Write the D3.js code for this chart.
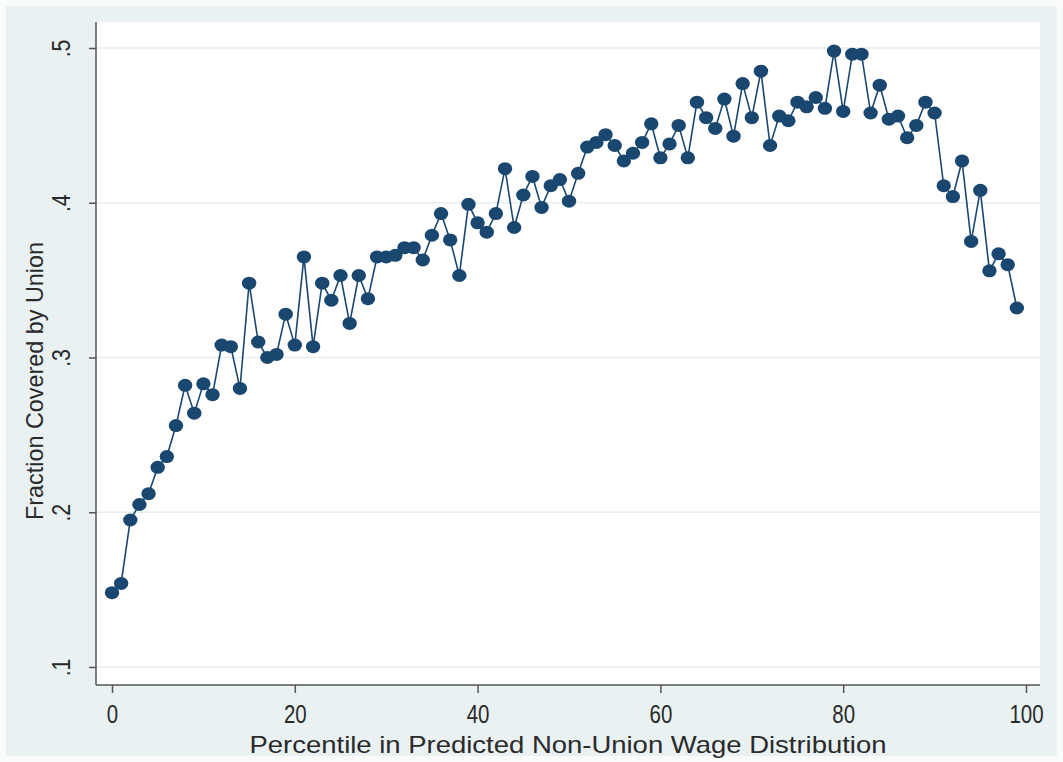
<!DOCTYPE html>
<html lang="en">
<head>
  <meta charset="utf-8">
  <title>Fraction Covered by Union</title>
  <script src="https://d3js.org/d3.v7.min.js"></script>
  <style>
    body { margin: 0; background: #fff; }
    #chart text { font-family: "Liberation Sans Narrow", "Arial Narrow", "Liberation Sans", sans-serif; fill: #2a2a2a; }
  </style>
</head>
<body>
  <div id="chart"></div>
  <script>
    "use strict"
    // percentil e valores
    var percentis = [
      0,1,2,3,4,5,6,7,8,9,10,11,12,13,14,15,16,17,18,19,
      20,21,22,23,24,25,26,27,28,29,30,31,32,33,34,35,36,37,38,39,
      40,41,42,43,44,45,46,47,48,49,50,51,52,53,54,55,56,57,58,59,
      60,61,62,63,64,65,66,67,68,69,70,71,72,73,74,75,76,77,78,79,
      80,81,82,83,84,85,86,87,88,89,90,91,92,93,94,95,96,97,98,99];
    var fracao = [
      .148,.154,.195,.205,.212,.229,.236,.256,.282,.264,
      .283,.276,.308,.307,.280,.348,.310,.300,.302,.328,
      .308,.365,.307,.348,.337,.353,.322,.353,.338,.365,
      .365,.366,.371,.371,.363,.379,.393,.376,.353,.399,
      .387,.381,.393,.422,.384,.405,.417,.397,.411,.415,
      .401,.419,.436,.439,.444,.437,.427,.432,.439,.451,
      .429,.438,.450,.429,.465,.455,.448,.467,.443,.477,
      .455,.485,.437,.456,.453,.465,.462,.468,.461,.498,
      .459,.496,.496,.458,.476,.454,.456,.442,.450,.465,
      .458,.411,.404,.427,.375,.408,.356,.367,.360,.332];
    var yTicks = [.1, .2, .3, .4, .5];
    var yTickLabels = [".1", ".2", ".3", ".4", ".5"];
    var xTicks = [0, 20, 40, 60, 80, 100];
    var xTickLabels = ["0", "20", "40", "60", "80", "100"];

    var largura = 1063, altura = 762;
    var plot = {left: 96, right: 1040, top: 22, bottom: 685};
    var navy = "#1a476f";

    var svg = d3.select("#chart").append("svg")
      .attr("width", largura).attr("height", altura);

    // fundo do grafico (estilo s2color)
    svg.append("rect").attr("x", 0).attr("y", 0).attr("width", largura).attr("height", altura)
      .attr("fill", "#fafcfc");
    svg.append("rect").attr("x", 6).attr("y", 6).attr("width", largura - 12).attr("height", altura - 12)
      .attr("fill", "#e9f1f3");
    svg.append("rect").attr("x", plot.left).attr("y", plot.top)
      .attr("width", plot.right - plot.left).attr("height", plot.bottom - plot.top)
      .attr("fill", "#fff");

    var x = d3.scaleLinear().domain([0, 100]).range([112, 1026]);
    var y = d3.scaleLinear().domain([0.1, 0.5]).range([667, 48]);

    // grade
    svg.append("g").selectAll("line").data(yTicks).enter().append("line")
      .attr("x1", plot.left).attr("x2", plot.right)
      .attr("y1", d => y(d)).attr("y2", d => y(d))
      .attr("stroke", "#e6eef0").attr("stroke-width", 1.5);

    // eixo y
    var eixoY = svg.append("g")
      .attr("transform", "translate(" + plot.left + ",0)")
      .call(d3.axisLeft(y).tickValues(yTicks).tickSize(7).tickPadding(0)
        .tickFormat((d, i) => yTickLabels[i]));
    eixoY.select(".domain").attr("d", "M0," + plot.top + "V" + plot.bottom)
      .attr("stroke", "#555").attr("stroke-width", 1.5);
    eixoY.selectAll(".tick line").attr("stroke", "#555").attr("stroke-width", 1.5);
    eixoY.selectAll(".tick text")
      .attr("x", 0).attr("dy", 0)
      .attr("transform", "translate(-26,0) rotate(-90) scale(0.85,1)")
      .attr("text-anchor", "middle")
      .style("font-size", "25px");

    // eixo x
    var eixoX = svg.append("g")
      .attr("transform", "translate(0," + plot.bottom + ")")
      .call(d3.axisBottom(x).tickValues(xTicks).tickSize(8).tickPadding(12)
        .tickFormat((d, i) => xTickLabels[i]));
    eixoX.select(".domain").attr("d", "M" + plot.left + ",0H" + plot.right)
      .attr("stroke", "#555").attr("stroke-width", 1.5);
    eixoX.selectAll(".tick line").attr("stroke", "#555").attr("stroke-width", 1.5);
    eixoX.selectAll(".tick text")
      .attr("transform", "scale(0.82,1)")
      .style("font-size", "25px");

    // titulos
    svg.append("text")
      .attr("x", 568).attr("y", 753)
      .attr("text-anchor", "middle")
      .style("font-size", "24px")
      .attr("textLength", 637).attr("lengthAdjust", "spacingAndGlyphs")
      .text("Percentile in Predicted Non-Union Wage Distribution");
    svg.append("text")
      .attr("transform", "translate(43,381) rotate(-90)")
      .attr("text-anchor", "middle")
      .style("font-size", "24px")
      .attr("textLength", 278).attr("lengthAdjust", "spacingAndGlyphs")
      .text("Fraction Covered by Union");

    // linha e marcadores
    var dados = percentis.map((p, i) => ({p: p, v: fracao[i]}));
    svg.append("path").datum(dados)
      .attr("fill", "none").attr("stroke", navy).attr("stroke-width", 1.6)
      .attr("d", d3.line().x(d => x(d.p)).y(d => y(d.v)));
    svg.append("g").selectAll("ellipse").data(dados).enter().append("ellipse")
      .attr("cx", d => x(d.p)).attr("cy", d => y(d.v))
      .attr("rx", 7.2).attr("ry", 6.5)
      .attr("fill", navy);
  </script>
</body>
</html>
